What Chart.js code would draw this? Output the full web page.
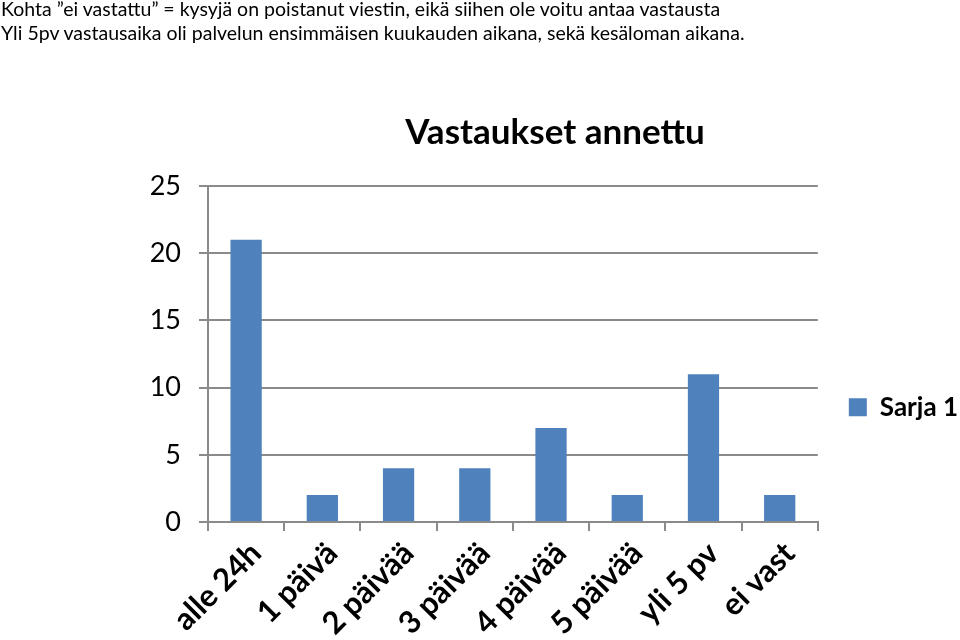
<!DOCTYPE html>
<html><head><meta charset="utf-8">
<script src="https://cdn.jsdelivr.net/npm/chart.js@4/dist/chart.umd.min.js"></script>
<style>
html,body{margin:0;padding:0;background:#fff;overflow:hidden;}
#wrap{position:relative;width:960px;height:640px;overflow:hidden;}
#note{position:absolute;left:1px;top:-3px;font-family:Lato,sans-serif;font-size:19.5px;line-height:24px;color:#000;white-space:nowrap;z-index:2;}
canvas{position:absolute;left:142px;top:0;}
</style></head>
<body>
<div id="wrap">
<div id="note">Kohta ”ei vastattu” = kysyjä on poistanut viestin, eikä siihen ole voitu antaa vastausta<br>Yli 5pv vastausaika oli palvelun ensimmäisen kuukauden aikana, sekä kesäloman aikana.</div>
<canvas id="c" width="826" height="640"></canvas>
</div>
<script>
const categories = ["alle 24h", "1 päivä", "2 päivää", "3 päivää", "4 päivää", "5 päivää", "yli 5 pv", "ei vast"];
const seriesName = "Sarja 1";
const values = [21, 2, 4, 4, 7, 2, 11, 2];
const titleText = "Vastaukset annettu";
const yMin = 0, yMax = 25, yStep = 5;

const canvasLeft = 142;
const gridColor = "#8a8a8a";
new Chart(document.getElementById("c"), {
  type: "bar",
  data: { labels: categories, datasets: [{ label: seriesName, data: values, backgroundColor: "#4f81bd", borderWidth: 0, categoryPercentage: 1, barPercentage: 0.41 }] },
  options: {
    responsive: false, animation: false,
    layout: { padding: { top: 112, left: 0, right: 0, bottom: 0 } },
    plugins: {
      title: { display: true, text: titleText, color: "#000", font: { family: "Lato", size: 35, weight: "bold" }, padding: { top: 0, bottom: 32 } },
      legend: { position: "right",
        title: { display: true, text: " ", font: { size: 12 }, padding: { top: 0, bottom: 48 } },
        labels: { color: "#000", font: { family: "Lato", size: 26, weight: "bold" }, boxWidth: 18, boxHeight: 18, padding: 31 } },
      tooltip: { enabled: false }
    },
    scales: {
      x: {
        grid: { display: true, drawOnChartArea: false, drawTicks: true, tickLength: 9, color: gridColor, lineWidth: 2 },
        border: { display: true, color: gridColor, width: 2 },
        ticks: { color: "#000", font: { family: "Lato", size: 31, weight: "bold" }, maxRotation: 45, minRotation: 45, padding: 4, labelOffset: 10 },
        afterFit: s => { s.height = 118; }
      },
      y: {
        min: yMin, max: yMax,
        grid: { color: gridColor, lineWidth: 2, tickLength: 9 },
        border: { display: true, color: gridColor, width: 2 },
        ticks: { stepSize: yStep, color: "#000", font: { family: "Lato", size: 27 }, padding: 18 },
        afterFit: s => { s.width = 208 - canvasLeft; }
      }
    }
  }
});
</script>
</body></html>
